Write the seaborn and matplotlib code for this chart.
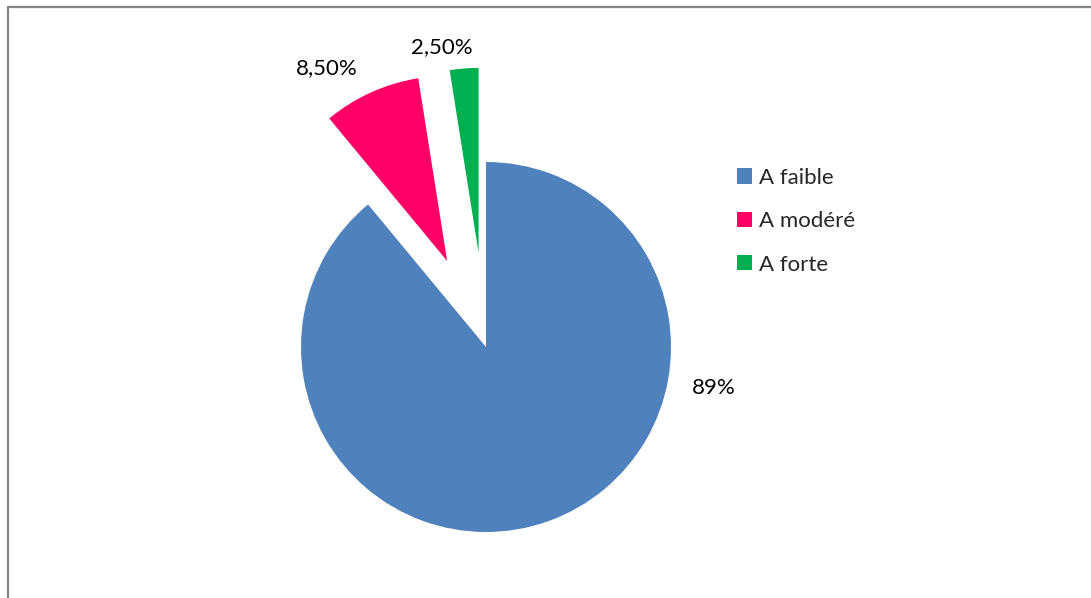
import matplotlib
matplotlib.use("Agg")
import matplotlib.pyplot as plt
from matplotlib.lines import Line2D
import seaborn as sns

categories = ["A faible", "A modéré", "A forte"]
values = [89.0, 8.5, 2.5]
value_labels = ["89%", "8,50%", "2,50%"]
colors = ["#4F81BD", "#FF0066", "#00B050"]

sns.set_theme(style="white")
plt.rcParams["font.family"] = ["Lato", "DejaVu Sans"]

W, H = 1091, 598
fig = plt.figure(figsize=(W / 100, H / 100), dpi=100)
ax = fig.add_axes([0, 0, 1, 1])

# pie centre and radius in pixels, as in the reference
cx, cy, r = 486, 347, 185

wedges, _ = ax.pie(values, colors=colors, startangle=90, counterclock=False,
                   explode=[0, 0.51, 0.51], radius=1,
                   wedgeprops=dict(linewidth=0))
ax.set_xlim(-cx / r, (W - cx) / r)
ax.set_ylim(-(H - cy) / r, cy / r)
ax.set_aspect("auto")
ax.axis("off")

# label positions (in radius units) as placed in the original chart
label_pos = [(1.23, -0.22), (-0.86, 1.51), (-0.24, 1.62)]
for txt, (lx, ly) in zip(value_labels, label_pos):
    ax.text(lx, ly, txt, ha="center", va="center", fontsize=16, color="#000000")

leg = ax.legend(wedges, categories, loc="upper left",
                bbox_to_anchor=(728 / W, 1 - 159 / H), frameon=False,
                fontsize=16, handlelength=0.68, handleheight=0.68,
                handletextpad=0.3, labelspacing=1.05, borderaxespad=0)

# chart area border (top and left edges visible)
fig.add_artist(Line2D([7.5 / W, 7.5 / W], [0, 1 - 6.5 / H], color="#868686", lw=1.6))
fig.add_artist(Line2D([7.5 / W, 1], [1 - 6.5 / H, 1 - 6.5 / H], color="#868686", lw=1.6))

fig.savefig("out.png", dpi=100)
